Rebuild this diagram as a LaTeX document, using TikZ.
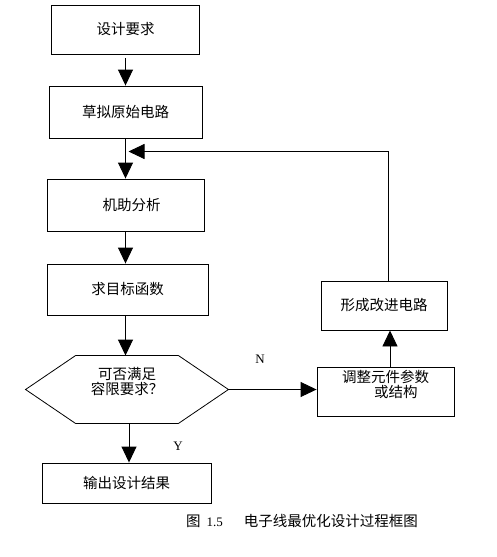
\documentclass[tikz,border=0pt]{standalone}
\usepackage{fontspec}
\setmainfont{Noto Sans CJK SC}
\newfontfamily\latinfont{Liberation Serif}
\usetikzlibrary{arrows.meta}

\begin{document}
\begin{tikzpicture}[x=1pt,y=-1pt,
    procbox/.style ={rectangle, draw, line width=0.9pt, inner sep=0pt, font=\fontsize{14.5}{17}\selectfont},
    boxtext/.style ={inner sep=0pt, align=left, font=\fontsize{14.5}{15}\selectfont},
    flow/.style ={line width=0.9pt, -{Triangle[width=15pt,length=16pt]}},
    latintext/.style ={inner sep=0pt, font=\latinfont\fontsize{13}{15}\selectfont}]
   \useasboundingbox (0,0) rectangle (497,557);

   \node[procbox, minimum width=148pt, minimum height=49pt] (req)   at (125.5,29.5) {设计要求};
   \node[procbox, minimum width=153pt, minimum height=52pt] (draft) at (125.5,112)  {草拟原始电路};
   \node[procbox, minimum width=157pt, minimum height=52pt] (anal)  at (125.5,205)  {\hspace{12pt}机助分析};
   \node[procbox, minimum width=161pt, minimum height=51pt] (obj)   at (127.5,289.5) {求目标函数};
   \node[procbox, draw=none, minimum width=202pt, minimum height=67pt,
         label={[boxtext, align=center, yshift=8pt, name=checktext]center:{可否满足\\容限要求？}}] (check) at (127,389.5) {};
   \node[procbox, minimum width=169pt, minimum height=40pt] (out)   at (126.5,483)  {输出设计结果};
   \node[procbox, minimum width=137pt, minimum height=49pt,
         label={[boxtext, anchor=north, yshift=-3pt, name=adjtext]north:{调整元件参数\\\hspace{32pt}或结构}}] (adj) at (385.5,391.5) {};
   \node[procbox, minimum width=126pt, minimum height=49pt] (form)  at (384,305.5) {形成改进电路};
   \coordinate (merge) at (128.5,151.5);

   % hexagon of the decision
   \draw[line width=0.8pt] (check.west) -- ([xshift=50pt]check.north west) -- ([xshift=-50pt]check.north east)
      -- (check.east) -- ([xshift=-50pt]check.south east) -- ([xshift=50pt]check.south west) -- cycle;

   \draw[flow, shorten <=4pt] (req.south) -- (draft.north);
   \draw[flow] (draft.south) -- (anal.north);
   \draw[flow] (anal.south) -- (anal.south |- obj.north);
   \draw[flow] (obj.south -| anal) -- (check.north -| anal);
   \draw[flow] ([xshift=2pt]check.south) -- ([xshift=2.5pt]out.north);
   \draw[flow] (check.east) -- (check.east -| adj.west);
   \draw[flow] ([xshift=4.5pt]adj.north) -- ([xshift=4.5pt]adj.north |- form.south);
   \draw[flow] ([xshift=4pt]form.north) |- (merge);

   \node[latintext] (nlabel) at (260,359) {N};
   \node[latintext] (ylabel) at (178,446) {Y};
   \node[anchor=west, inner sep=0pt, font=\fontsize{14.5}{17}\selectfont] (caption) at (186,521)
      {图\hspace{6pt}{\latinfont\fontsize{13}{15}\selectfont 1.5}\hspace{21pt}电子线最优化设计过程框图};
 \end{tikzpicture}
\end{document}
